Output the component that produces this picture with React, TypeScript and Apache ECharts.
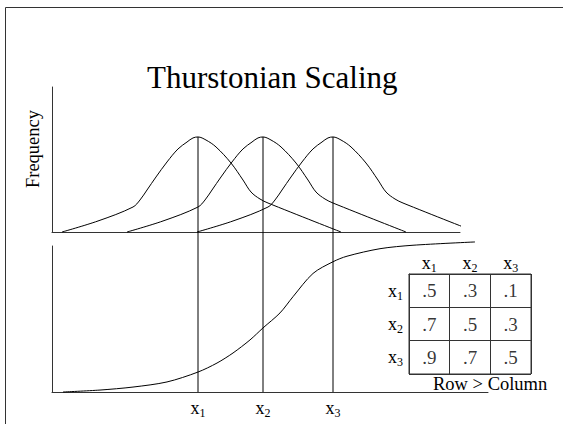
import React, { useEffect, useRef } from 'react';
import * as echarts from 'echarts';

const SERIF = "'Liberation Serif', 'Times New Roman', serif";

// Stimulus means on the psychological scale (axis units)
const STIMULI = ['1', '2', '3'];
const MEANS = [14.6, 21.1, 28.1];

// Shape of each discriminal-dispersion curve: offset from mean, relative frequency
const SHAPE_DX = [-13.6, -10.0, -6.5, -5.8, -5.1, -4.2, -3.1, -2.0, -1.1, -0.5, 0, 0.8, 1.8, 3.3, 4.5, 5.3, 6.2, 7.0, 14.3];
const SHAPE_H = [0, 0.116, 0.263, 0.337, 0.442, 0.579, 0.737, 0.874, 0.947, 0.99, 1, 0.968, 0.895, 0.726, 0.547, 0.421, 0.347, 0.305, 0];

// Cumulative (ogive) curve
const OGIVE_X = [1.1, 4.8, 8.1, 11.5, 14.6, 16.5, 18.1, 19.8, 21.1, 22.8, 24.1, 26.1, 28.1, 29.5, 32.8, 36.1, 42.3];
const OGIVE_P = [0, 0.013, 0.033, 0.067, 0.133, 0.193, 0.26, 0.347, 0.427, 0.527, 0.635, 0.79, 0.868, 0.905, 0.955, 0.978, 1.0];

// Proportion matrix: row stimulus judged greater than column stimulus
const TABLE_LABELS = ['1', '2', '3'];
const PROPORTIONS = [
  [0.5, 0.3, 0.1],
  [0.7, 0.5, 0.3],
  [0.9, 0.7, 0.5],
];

const TOP_X_MAX = 40.8;
const BOTTOM_X_MAX = 43.6;
const FREQ_MAX = 1.526;
const OVERLAY_MIN = -1.684;
const OGIVE_MAX = 0.973;

const AXIS_COLOR = '#333';

const subRich = {
  x: { fontFamily: SERIF, fontSize: 18, color: '#000' },
  s: { fontFamily: SERIF, fontSize: 12, color: '#000', padding: [10, 0, 0, 0] },
};

function buildOption() {
  const curves = MEANS.map((m, i) => ({
    name: 'x' + STIMULI[i],
    type: 'line',
    xAxisIndex: 0,
    yAxisIndex: 0,
    data: SHAPE_DX.map((dx, k) => [m + dx, SHAPE_H[k]]),
    smooth: 0.35,
    showSymbol: false,
    clip: false,
    lineStyle: { color: '#000', width: 1 },
    silent: true,
  }));

  const verticals = MEANS.map((m) => ({
    type: 'line',
    xAxisIndex: 2,
    yAxisIndex: 2,
    data: [
      [m, 1],
      [m, OVERLAY_MIN],
    ],
    showSymbol: false,
    lineStyle: { color: '#000', width: 1 },
    silent: true,
  }));

  const tableData: any[] = [];
  PROPORTIONS.forEach((row, r) => {
    row.forEach((v, c) => tableData.push([c, r, v]));
  });

  return {
    animation: false,
    backgroundColor: '#fff',
    title: [
      {
        text: 'Thurstonian Scaling',
        left: 147,
        top: 62,
        padding: 0,
        textStyle: { fontFamily: SERIF, fontSize: 31, fontWeight: 'normal', color: '#000' },
      },
      {
        text: 'Row > Column',
        left: 433,
        top: 374,
        padding: 0,
        textStyle: { fontFamily: SERIF, fontSize: 18.5, fontWeight: 'normal', color: '#000' },
      },
    ],
    graphic: [
      {
        type: 'rect',
        silent: true,
        shape: { x: 5.5, y: 7.5, width: 600, height: 500 },
        style: { fill: 'none', stroke: AXIS_COLOR, lineWidth: 1 },
      },
    ],
    grid: [
      { left: 52, top: 87, width: 408, height: 145 },
      { left: 52, top: 246, width: 436, height: 146 },
      { left: 52, top: 87, width: 408, height: 305 },
      { left: 409, top: 274, width: 122, height: 100, show: true, borderColor: AXIS_COLOR, borderWidth: 1 },
    ],
    xAxis: [
      {
        type: 'value', gridIndex: 0, min: 0, max: TOP_X_MAX,
        axisLine: { show: true, onZero: false, lineStyle: { color: AXIS_COLOR, width: 1 } },
        axisTick: { show: false }, axisLabel: { show: false }, splitLine: { show: false },
      },
      {
        type: 'value', gridIndex: 1, min: 0, max: BOTTOM_X_MAX,
        axisLine: { show: true, onZero: false, lineStyle: { color: AXIS_COLOR, width: 1 } },
        axisTick: { show: false }, splitLine: { show: false },
        axisLabel: {
          show: true,
          customValues: MEANS,
          margin: 5,
          formatter: (v: number) => {
            const i = MEANS.findIndex((m) => Math.abs(m - v) < 1e-6);
            return i < 0 ? '' : `{x|x}{s|${STIMULI[i]}}`;
          },
          rich: subRich,
        },
      },
      {
        type: 'value', gridIndex: 2, min: 0, max: TOP_X_MAX, show: false,
      },
      {
        type: 'category', gridIndex: 3, position: 'top', data: TABLE_LABELS,
        axisLine: { show: true, lineStyle: { color: AXIS_COLOR, width: 1 } },
        axisTick: { show: false, interval: 0 },
        splitLine: { show: true, interval: 0, lineStyle: { color: AXIS_COLOR, width: 1 } },
        axisLabel: {
          interval: 0,
          hideOverlap: false,
          margin: 0,
          formatter: (v: string) => `{x|x}{s|${v}}`,
          rich: subRich,
        },
      },
    ],
    yAxis: [
      {
        type: 'value', gridIndex: 0, min: 0, max: FREQ_MAX,
        axisLine: { show: true, onZero: false, lineStyle: { color: AXIS_COLOR, width: 1 } },
        axisTick: { show: false }, axisLabel: { show: false }, splitLine: { show: false },
        name: 'Frequency',
        nameLocation: 'middle',
        nameRotate: 90,
        nameGap: 10,
        nameTextStyle: { fontFamily: SERIF, fontSize: 18.5, color: '#000', padding: [0, 0, 0, 21] },
      },
      {
        type: 'value', gridIndex: 1, min: 0, max: OGIVE_MAX,
        axisLine: { show: true, onZero: false, lineStyle: { color: AXIS_COLOR, width: 1 } },
        axisTick: { show: false }, axisLabel: { show: false }, splitLine: { show: false },
      },
      {
        type: 'value', gridIndex: 2, min: OVERLAY_MIN, max: FREQ_MAX, show: false,
      },
      {
        type: 'category', gridIndex: 3, inverse: true, data: TABLE_LABELS,
        axisLine: { show: true, lineStyle: { color: AXIS_COLOR, width: 1 } },
        axisTick: { show: false, interval: 0 },
        splitLine: { show: true, interval: 0, lineStyle: { color: AXIS_COLOR, width: 1 } },
        axisLabel: {
          interval: 0,
          hideOverlap: false,
          margin: 6,
          formatter: (v: string) => `{x|x}{s|${v}}`,
          rich: subRich,
        },
      },
    ],
    series: [
      ...curves,
      {
        name: 'ogive',
        type: 'line',
        xAxisIndex: 1,
        yAxisIndex: 1,
        data: OGIVE_X.map((x, k) => [x, OGIVE_P[k]]),
        smooth: 0.3,
        showSymbol: false,
        clip: false,
        lineStyle: { color: '#000', width: 1 },
        silent: true,
      },
      ...verticals,
      {
        name: 'proportions',
        type: 'scatter',
        xAxisIndex: 3,
        yAxisIndex: 3,
        data: tableData,
        symbolSize: 1,
        itemStyle: { color: 'rgba(0,0,0,0)' },
        silent: true,
        label: {
          show: true,
          position: 'inside',
          formatter: (p: any) => String(p.value[2]).replace(/^0/, ''),
          fontFamily: SERIF,
          fontSize: 19,
          color: '#000',
        },
      },
    ],
  };
}

export default function App() {
  const ref = useRef<HTMLDivElement>(null);
  useEffect(() => {
    const chart = echarts.init(ref.current!, null, { renderer: 'svg' });
    chart.setOption(buildOption() as any);
    return () => chart.dispose();
  }, []);
  return (
    <div
      ref={ref}
      style={{ position: 'absolute', left: 0, top: 0, width: 563, height: 424, background: '#fff' }}
    />
  );
}
